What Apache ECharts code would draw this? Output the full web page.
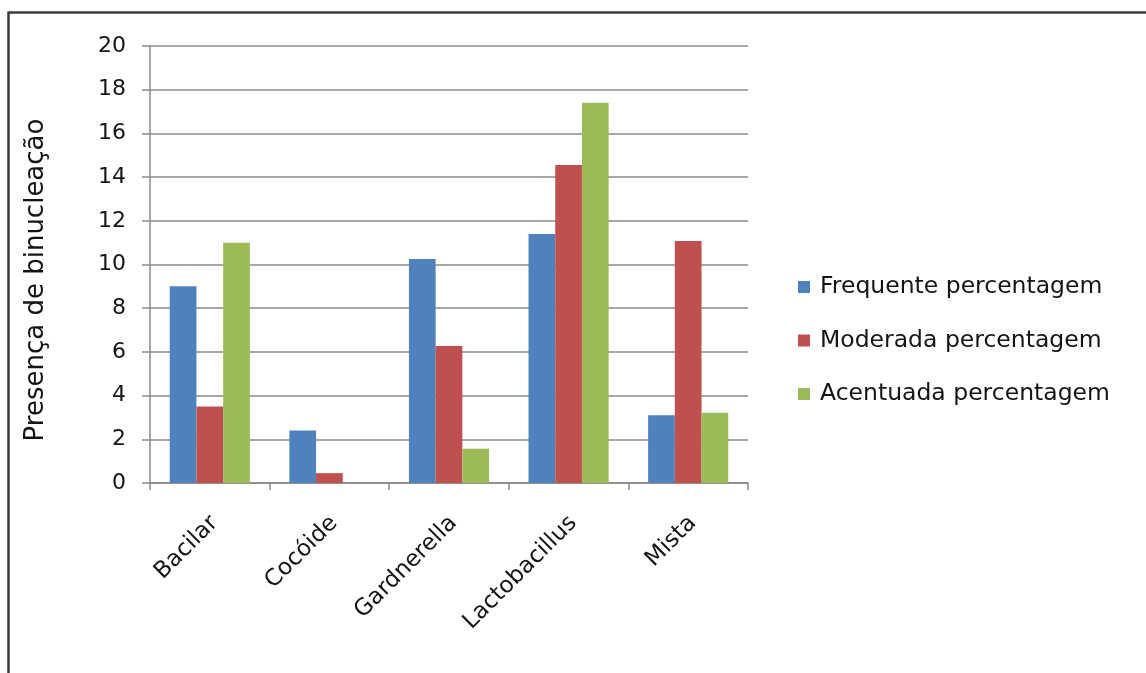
<!DOCTYPE html>
<html>
<head>
<meta charset="utf-8">
<script src="https://cdn.jsdelivr.net/npm/echarts@6/dist/echarts.min.js"></script>
<style>
  html, body { margin: 0; padding: 0; background: #fff; overflow: hidden; }
  #chart { width: 1146px; height: 673px; }
</style>
</head>
<body>
<div id="chart"></div>
<script>
// Bacterial flora categories and binucleation percentages per intensity level
const categories = ['Bacilar', 'Cocóide', 'Gardnerella', 'Lactobacillus', 'Mista'];
const frequente = [9.0, 2.4, 10.25, 11.4, 3.1];
const moderada = [3.5, 0.45, 6.27, 14.55, 11.07];
const acentuada = [11.0, 0, 1.57, 17.4, 3.22];
const seriesNames = ['Frequente percentagem', 'Moderada percentagem', 'Acentuada percentagem'];
const yTicks = [0, 2, 4, 6, 8, 10, 12, 14, 16, 18, 20];
const yTitle = 'Presença de binucleação';

const FONT = 'DejaVu Sans';
const colors = ['#4F81BD', '#C0504D', '#9BBB59'];
const gridColor = '#8a8a8a';
const textColor = '#141414';

const chart = echarts.init(document.getElementById('chart'), null, { renderer: 'canvas' });

const seriesData = [frequente, moderada, acentuada];

chart.setOption({
  animation: false,
  backgroundColor: '#ffffff',
  color: colors,
  textStyle: { fontFamily: FONT },
  grid: { left: 150, right: 398, top: 46, bottom: 190, containLabel: false },
  legend: {
    orient: 'vertical',
    left: 793,
    top: 270,
    itemWidth: 12,
    itemHeight: 12,
    itemGap: 29.5,
    icon: 'rect',
    textStyle: { fontFamily: FONT, fontSize: 23.5, color: textColor, padding: [0, 0, 0, 5] },
    data: seriesNames
  },
  xAxis: {
    type: 'category',
    data: categories,
    boundaryGap: true,
    axisLine: { lineStyle: { color: gridColor, width: 1.5 } },
    axisTick: { show: true, alignWithLabel: false, length: 7, lineStyle: { color: gridColor, width: 1.5 } },
    axisLabel: {
      rotate: 45,
      margin: 25,
      fontSize: 23,
      color: textColor,
      fontFamily: FONT,
      interval: 0,
      align: 'right',
      verticalAlign: 'top',
      padding: [0, 5, 0, 0]
    }
  },
  yAxis: {
    type: 'value',
    min: yTicks[0],
    max: yTicks[yTicks.length - 1],
    interval: yTicks[1] - yTicks[0],
    axisLine: { show: true, lineStyle: { color: gridColor, width: 1.5 } },
    axisTick: { show: true, length: 8, lineStyle: { color: gridColor, width: 1.5 } },
    axisLabel: { fontSize: 22, color: textColor, fontFamily: FONT, margin: 24 },
    splitLine: { lineStyle: { color: gridColor, width: 1.5 } }
  },
  series: seriesData.map((d, i) => ({
    name: seriesNames[i],
    type: 'bar',
    data: d,
    barGap: '0%',
    barCategoryGap: '33%',
    itemStyle: { color: colors[i] }
  })),
  graphic: [
    {
      type: 'text',
      x: 36,
      y: 280,
      rotation: Math.PI / 2,
      style: {
        text: yTitle,
        fontFamily: FONT,
        fontSize: 26,
        fill: textColor,
        align: 'center',
        verticalAlign: 'middle'
      }
    },
    {
      // outer frame: left and top edges only
      type: 'line',
      shape: { x1: 8.5, y1: 12.5, x2: 1146, y2: 12.5 },
      style: { stroke: '#3a3a3a', lineWidth: 2.5 },
      silent: true
    },
    {
      type: 'line',
      shape: { x1: 8.5, y1: 11.5, x2: 8.5, y2: 673 },
      style: { stroke: '#3a3a3a', lineWidth: 2.5 },
      silent: true
    }
  ]
});
</script>
</body>
</html>
